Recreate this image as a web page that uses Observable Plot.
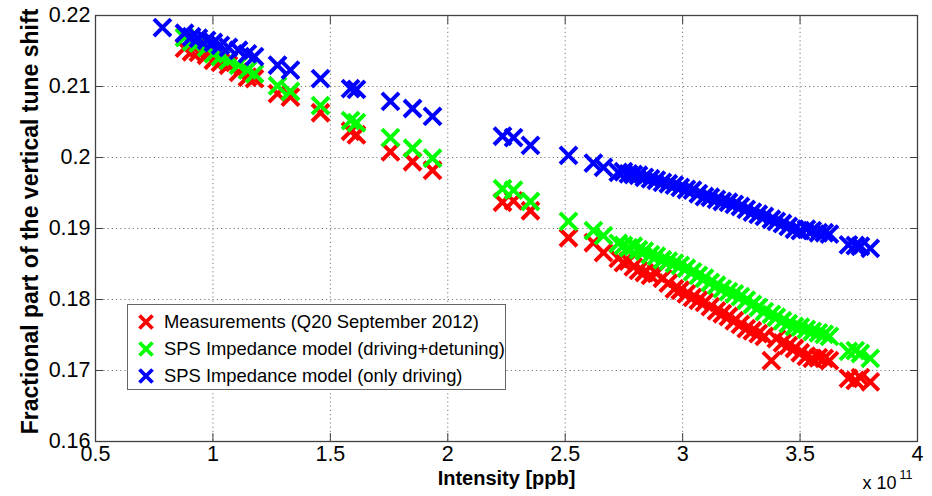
<!DOCTYPE html>
<html><head><meta charset="utf-8">
<script src="https://cdn.jsdelivr.net/npm/d3@7"></script>
<script src="https://cdn.jsdelivr.net/npm/@observablehq/plot@0.6"></script>
<style>
body{margin:0;background:#fff;}
#wrap{position:relative;width:932px;height:496px;font-family:"Liberation Sans",Arial,sans-serif;color:#000;}
#legend{position:absolute;left:127px;top:304px;width:379px;height:86px;border:1px solid #666;background:#fff;box-sizing:border-box;padding-top:3px;}
.row{height:27px;display:flex;align-items:center;font-size:18.4px;white-space:nowrap;}
.row svg{flex-shrink:0;margin-left:9px;margin-right:9px;}
</style></head><body><div id="wrap"></div>
<script>
const intensity = [0.785, 0.879, 0.909, 0.938, 0.973, 1.002, 1.032, 1.066, 1.109, 1.147, 1.177,
  1.275, 1.330, 1.458, 1.586, 1.611, 1.756, 1.850, 1.935,
  2.233, 2.280, 2.352, 2.514, 2.620, 2.663,
  2.726, 2.748, 2.769, 2.790, 2.812, 2.837, 2.863, 2.888, 2.914, 2.939,
  2.965, 2.990, 3.016, 3.042, 3.067, 3.093, 3.118, 3.144, 3.169, 3.195,
  3.220, 3.246, 3.271, 3.297, 3.322, 3.348, 3.378, 3.399, 3.425, 3.450,
  3.476, 3.501, 3.527, 3.552, 3.578, 3.603, 3.625,
  3.706, 3.735, 3.757, 3.799];
const measured = [null, 0.2154, 0.2149, 0.2148, 0.2144, 0.2137, 0.2134, 0.2130, 0.2120, 0.2113, 0.2111,
  0.2090, 0.2085, 0.2063, 0.2037, 0.2032, 0.2008, 0.1994, 0.1982,
  0.1937, 0.1939, 0.1925, 0.1887, 0.1880, 0.1866,
  0.1858, 0.1852, 0.1854, 0.1846, 0.1841, 0.1838, 0.1834, 0.1837, 0.1830, 0.1823,
  0.1815, 0.1813, 0.1808, 0.1803, 0.1799, 0.1796, 0.1790, 0.1784, 0.1780, 0.1776,
  0.1770, 0.1765, 0.1759, 0.1756, 0.1752, 0.1748, 0.1714, 0.1745, 0.1739, 0.1735,
  0.1731, 0.1725, 0.1720, 0.1717, 0.1718, 0.1717, 0.1714,
  0.1689, 0.1686, 0.1690, 0.1684];
const drivingDetuning = [null, 0.2169, 0.2163, 0.2161, 0.2155, 0.2146, 0.2142, 0.2137, 0.2130, 0.2123, 0.2118,
  0.2101, 0.2093, 0.2073, 0.2052, 0.2049, 0.2028, 0.2013, 0.1999,
  0.1956, 0.1954, 0.1938, 0.1910, 0.1897, 0.1890,
  0.1879, 0.1876, 0.1873, 0.1875, 0.1870, 0.1868, 0.1863, 0.1861, 0.1856, 0.1854,
  0.1851, 0.1848, 0.1844, 0.1839, 0.1834, 0.1830, 0.1824, 0.1820, 0.1815, 0.1811,
  0.1808, 0.1804, 0.1799, 0.1793, 0.1789, 0.1783, 0.1779, 0.1775, 0.1770, 0.1766,
  0.1762, 0.1761, 0.1758, 0.1755, 0.1753, 0.1751, 0.1748,
  0.1727, 0.1728, 0.1724, 0.1717];
const onlyDriving = [0.2183, 0.2175, 0.2170, 0.2168, 0.2165, 0.2162, 0.2158, 0.2155, 0.2151, 0.2146, 0.2142,
  0.2130, 0.2123, 0.2111, 0.2097, 0.2096, 0.2079, 0.2069, 0.2058,
  0.2030, 0.2028, 0.2017, 0.2003, 0.1992, 0.1986,
  0.1979, 0.1980, 0.1977, 0.1976, 0.1975, 0.1972, 0.1970, 0.1968, 0.1965, 0.1963,
  0.1961, 0.1958, 0.1955, 0.1954, 0.1949, 0.1945, 0.1944, 0.1941, 0.1938, 0.1937,
  0.1934, 0.1931, 0.1927, 0.1923, 0.1920, 0.1917, 0.1913, 0.1910, 0.1907, 0.1903,
  0.1899, 0.1897, 0.1899, 0.1897, 0.1894, 0.1894, 0.1892,
  0.1877, 0.1876, 0.1875, 0.1872];
const seriesNames = ["Measurements (Q20 September 2012)", "SPS Impedance model (driving+detuning)", "SPS Impedance model (only driving)"];
const seriesColors = ["#ff0000", "#00ff00", "#0000ff"];
const xTicks = [0.5, 1, 1.5, 2, 2.5, 3, 3.5, 4];
const yTicks = [0.16, 0.17, 0.18, 0.19, 0.2, 0.21, 0.22];
const xLabel = "Intensity [ppb]";
const yLabel = "Fractional part of the vertical tune shift";

const seriesValues = [measured, drivingDetuning, onlyDriving];
const rows = seriesValues.map(vals => intensity.map((x, i) => ({x, y: vals[i]})).filter(d => d.y != null));

const axisColor = "#404040";
const dotMarks = rows.map((data, k) => Plot.dot(data, {x: "x", y: "y", symbol: "times", r: 7.8, stroke: seriesColors[k], strokeWidth: 4}));

const chart = Plot.plot({
  width: 932, height: 496,
  marginLeft: 95, marginRight: 15, marginTop: 15, marginBottom: 55,
  style: {fontFamily: '"Liberation Sans", Arial, sans-serif', fontSize: "21px", color: "#000", background: "#fff", overflow: "visible"},
  x: {domain: [0.5, 4]},
  y: {domain: [0.16, 0.22]},
  marks: [
    Plot.gridX(xTicks, {stroke: "#777", strokeOpacity: 1, strokeDasharray: "1.2,3"}),
    Plot.gridY(yTicks, {stroke: "#777", strokeOpacity: 1, strokeDasharray: "1.2,3"}),
    ...dotMarks,
    Plot.frame({stroke: axisColor, strokeWidth: 1.3}),
    Plot.axisX(xTicks, {anchor: "bottom", tickSize: -8, fill: "none", stroke: axisColor, label: null}),
    Plot.axisX(xTicks, {anchor: "top", tickSize: -8, fill: "none", stroke: axisColor, label: null}),
    Plot.axisY(yTicks, {anchor: "left", tickSize: -8, fill: "none", stroke: axisColor, label: null}),
    Plot.axisY(yTicks, {anchor: "right", tickSize: -8, fill: "none", stroke: axisColor, label: null}),
    Plot.axisX(xTicks, {anchor: "bottom", tickSize: 0, tickPadding: 4, stroke: "none", fontSize: 21.5, label: null, tickFormat: d => String(d)}),
    Plot.axisY(yTicks, {anchor: "left", tickSize: 0, tickPadding: 5, stroke: "none", fontSize: 21.5, label: null, tickFormat: d => String(d)}),
    Plot.text([xLabel], {frameAnchor: "bottom", dy: 43, text: d => d, fontWeight: "bold", fontSize: 20}),
    Plot.text([yLabel], {frameAnchor: "left", dx: -65, dy: -7, rotate: -90, textAnchor: "middle", text: d => d, fontWeight: "bold", fontSize: 23}),
    Plot.text(["x 10"], {frameAnchor: "bottom-right", dx: -21, dy: 47, text: d => d, fontSize: 18, textAnchor: "end"}),
    Plot.text(["11"], {frameAnchor: "bottom-right", dx: -18, dy: 37, text: d => d, fontSize: 12.5, textAnchor: "start"})
  ]
});
const wrap = document.getElementById("wrap");
wrap.appendChild(chart);

const legend = document.createElement("div");
legend.id = "legend";
seriesNames.forEach((name, k) => {
  const row = document.createElement("div");
  row.className = "row";
  row.innerHTML = `<svg width="18" height="18" viewBox="-9 -9 18 18"><path d="M-6.5,-6.5L6.5,6.5M-6.5,6.5L6.5,-6.5" stroke="${seriesColors[k]}" stroke-width="3.8"/></svg><span>${name}</span>`;
  legend.appendChild(row);
});
wrap.appendChild(legend);
</script>
</body></html>
